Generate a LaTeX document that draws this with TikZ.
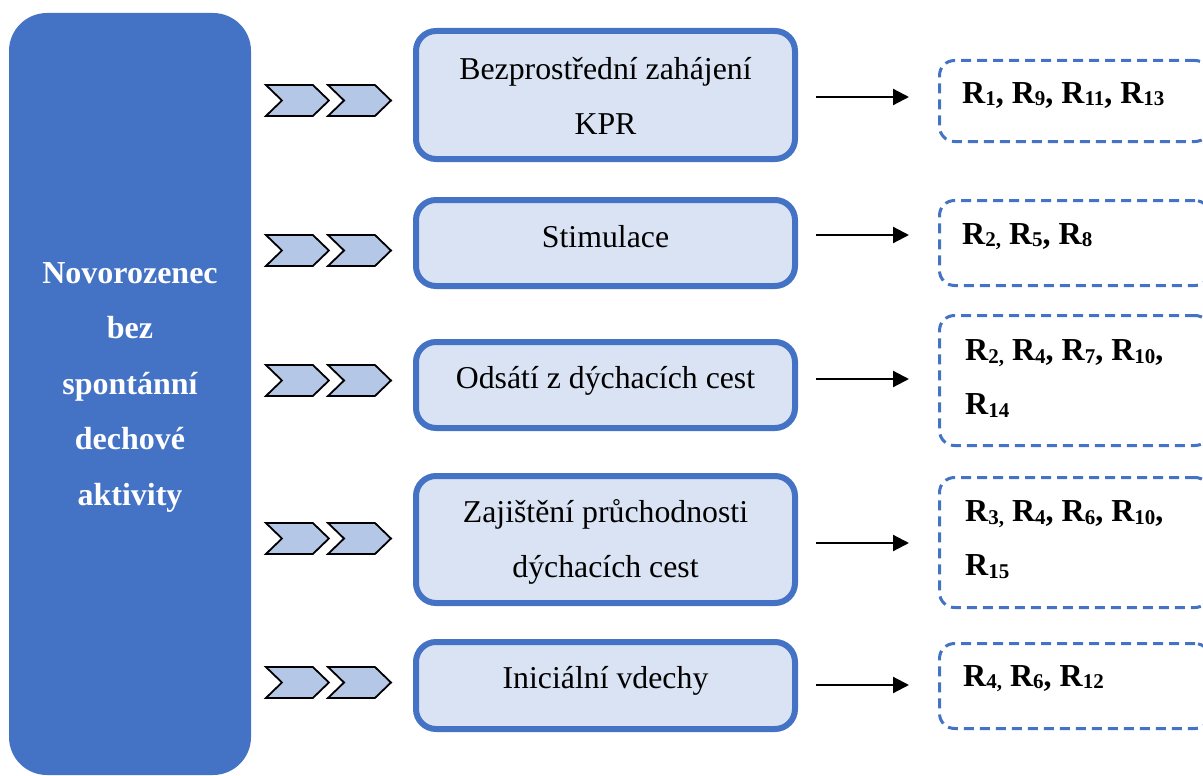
\documentclass[tikz,border=0pt]{standalone}
\usepackage{fontspec}
\setmainfont{Liberation Serif}
\usetikzlibrary{shapes.symbols,arrows.meta,calc}
\definecolor{accent}{HTML}{4472C4}
\definecolor{boxfill}{HTML}{DAE3F3}
\definecolor{chevfill}{HTML}{B4C7E7}
% reference label with a lowered index
\newcommand\Rsub[1]{R\raisebox{-2.5pt}{\fontsize{21}{21}\selectfont #1}}
\newcommand\scomma{\raisebox{-2.5pt}{\fontsize{21}{21}\selectfont ,}}
\begin{document}
\begin{tikzpicture}[x=1pt,y=-1pt,
  leftbox/.style={fill=accent, rounded corners=38pt, minimum width=242pt,
    minimum height=762pt, inner sep=0pt, outer sep=0pt},
  lefttext/.style={text=white, font=\fontsize{32}{55.5}\selectfont\bfseries,
    align=center, inner sep=0pt},
  midbox/.style={draw=accent, line width=6pt, fill=boxfill, rounded corners=20pt,
    minimum width=379pt, inner sep=0pt},
  midtext/.style={font=\fontsize{31.8}{55}\selectfont, align=center, inner sep=0pt},
  refbox/.style={draw=accent, line width=3pt, dash pattern=on 10pt off 6pt,
    rounded corners=15pt, minimum width=270.5pt, inner sep=0pt},
  reftext/.style={font=\fontsize{32}{54}\selectfont\bfseries, align=left, inner sep=0pt},
  chev/.style={shape=signal, signal from=west, signal to=east, signal pointer angle=88,
    minimum width=63pt, minimum height=31pt, inner sep=0pt, draw=black,
    line width=1.8pt, fill=chevfill},
  conn/.style={line width=2.2pt, -{Triangle[length=16pt,width=16pt]},
    shorten <=18pt, shorten >=29pt}]
\useasboundingbox (0,0) rectangle (1203,776);

% left column
\node[leftbox] (lb) at (130,394) {};
\node[lefttext] (lbt) at (130,387) {Novorozenec\\bez\\spontánní\\dechové\\aktivity};

% chevrons
\foreach \i/\yy in {1/100.5,2/250.5,3/380.5,4/538.5,5/682.5}{
  \node[chev] (ca\i) at (297.4,\yy) {};
  \node[chev] (cb\i) at (359.5,\yy) {};
}

% steps
\node[midbox, minimum height=128pt] (m1) at (605.5,95) {};
\node[midtext] (t1) at (605.5,95.5) {Bezprostřední zahájení\\KPR};
\node[midbox, minimum height=86pt] (m2) at (605.5,243) {};
\node[midtext, anchor=base] (t2) at (605.5,247) {Stimulace};
\node[midbox, minimum height=86pt] (m3) at (605.5,385) {};
\node[midtext, anchor=base] (t3) at (605.5,388) {Odsátí z dýchacích cest};
\node[midbox, minimum height=127pt] (m4) at (605.5,539.5) {};
\node[midtext] (t4) at (605.5,542) {Zajištění průchodnosti\\dýchacích cest};
\node[midbox, minimum height=87pt] (m5) at (605.5,685.5) {};
\node[midtext, anchor=base] (t5) at (605.5,688) {Iniciální vdechy};

% references
\node[refbox, minimum height=81pt] (r1) at (1074.75,101) {};
\node[refbox, minimum height=85pt] (r2) at (1074.75,243) {};
\node[refbox, minimum height=130pt] (r3) at (1074.75,380.5) {};
\node[refbox, minimum height=130pt] (r4) at (1074.75,542.5) {};
\node[refbox, minimum height=85pt] (r5) at (1074.75,686) {};

\node[reftext, anchor=base west] (q1) at (962,103) {\Rsub{1}, \Rsub{9}, \Rsub{11}, \Rsub{13}};
\node[reftext, anchor=base west] (q2) at (962,244) {\Rsub{2}\scomma{} \Rsub{5}, \Rsub{8}};
\node[reftext, anchor=west] (q3) at (965,378.4) {\Rsub{2}\scomma{} \Rsub{4}, \Rsub{7}, \Rsub{10},\\\Rsub{14}};
\node[reftext, anchor=west] (q4) at (965,539.4) {\Rsub{3}\scomma{} \Rsub{4}, \Rsub{6}, \Rsub{10},\\\Rsub{15}};
\node[reftext, anchor=base west] (q5) at (963,686) {\Rsub{4}\scomma{} \Rsub{6}, \Rsub{12}};

% connectors
\foreach \i/\yy in {1/97,2/235,3/379,4/543,5/685}{
  \coordinate (y\i) at (0,\yy);
  \draw[conn] (m\i.east |- y\i) -- (r\i.west |- y\i);
}
\end{tikzpicture}
\end{document}
